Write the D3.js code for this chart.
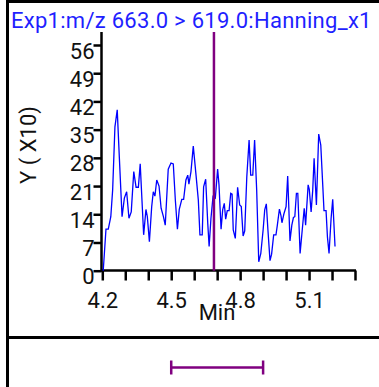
<!DOCTYPE html>
<html>
<head>
<meta charset="utf-8">
<script src="https://cdn.jsdelivr.net/npm/d3@7"></script>
<style>
  html, body { margin: 0; padding: 0; background: #fff; }
  svg { display: block; font-family: Roboto, "Noto Sans", sans-serif; }
</style>
</head>
<body>
<svg id="chart" width="379" height="387"></svg>
<script>
// Chromatogram trace: retention time (min) and intensity (units of X10)
const times = [
  4.204, 4.216, 4.226, 4.237, 4.245, 4.255, 4.265, 4.274, 4.286, 4.296,
  4.306, 4.316, 4.326, 4.337, 4.347, 4.357, 4.365, 4.380, 4.390, 4.396,
  4.405, 4.415, 4.422, 4.429, 4.437, 4.447, 4.456, 4.466, 4.474, 4.487,
  4.499, 4.509, 4.518, 4.527, 4.535, 4.546, 4.554, 4.564, 4.572, 4.577,
  4.586, 4.596, 4.608, 4.618, 4.625, 4.635, 4.641, 4.650, 4.659, 4.665,
  4.673, 4.682, 4.692, 4.702, 4.708, 4.717, 4.724, 4.731, 4.737, 4.744,
  4.752, 4.759, 4.765, 4.770, 4.779, 4.789, 4.798, 4.805, 4.813, 4.820,
  4.829, 4.839, 4.846, 4.855, 4.863, 4.872, 4.881, 4.890, 4.900, 4.907,
  4.914, 4.921, 4.930, 4.937, 4.946, 4.956, 4.962, 4.971, 4.978, 4.982,
  4.991, 5.000, 5.007, 5.017, 5.025, 5.032, 5.038, 5.045, 5.051, 5.061,
  5.069, 5.079, 5.085, 5.096, 5.101, 5.109, 5.116, 5.122, 5.132, 5.142,
  5.151, 5.160, 5.165, 5.174, 5.180, 5.187, 5.196, 5.203, 5.213
];
const intensities = [
  0, 10.3, 10.3, 13.4, 20, 35.7, 39.9, 28.3, 13.4, 18,
  19.6, 13, 14.6, 24.6, 20.7, 20.7, 26.5, 8.9, 15.2, 13.4,
  7.2, 15.9, 19.6, 18.5, 22.5, 21, 15.5, 13.4, 11.3, 25.2,
  26.7, 26.5, 17.5, 10.3, 15.2, 17.7, 17.7, 22.5, 23.7, 21.5,
  24.6, 30.9, 23.7, 17.5, 8.9, 8.9, 20.8, 22.7, 11.8, 6,
  13, 18.4, 18, 25.2, 21.3, 10.3, 15.1, 16.7, 12.8, 14.9,
  14.9, 19.2, 19, 10.1, 8, 20.7, 16.3, 15.9, 8.6, 9.9,
  23.3, 32.4, 23.7, 23.7, 32.4, 20, 2.2, 4.3, 10.1, 15.1,
  16.6, 10.1, 2.5, 4.1, 8.9, 8.9, 11.3, 15.3, 13.6, 11.9,
  14.2, 15.9, 23.5, 7.4, 11.3, 13.2, 13.4, 19.2, 19.2, 4.3,
  9.3, 15.5, 11.3, 21.3, 20.2, 14.6, 20, 27.9, 16.3, 33.9,
  31.2, 20.8, 14.9, 14.9, 8.4, 4.3, 13, 17.7, 6
];

// Axis ticks and labels
const yTicks = [0, 7, 14, 21, 28, 35, 42, 49, 56];
const xTicks = [4.2, 4.3, 4.4, 4.5, 4.6, 4.7, 4.8, 4.9, 5.0, 5.1, 5.2, 5.3];
const xLabelTicks = [4.2, 4.5, 4.8, 5.1];

// Peak marker and integration window
const markerTime = [4.686];
const windowRange = [4.50, 4.90];

const titleText = "Exp1:m/z 663.0 > 619.0:Hanning_x1";
const yTitle = "Y ( X10)";
const xTitle = "Min";

const svg = d3.select("#chart");
const FONT = 22;
const INK = "#111";

const x = d3.scaleLinear().domain([4.2, 5.3]).range([102.3, 355]);
const y = d3.scaleLinear().domain([0, 56]).range([270.7, 45]);
const yTop = 32;

// Frame
svg.append("line").attr("x1", 7.5).attr("x2", 379).attr("y1", 1.5).attr("y2", 1.5)
  .attr("stroke", "#000").attr("stroke-width", 3);
svg.append("line").attr("x1", 7.5).attr("x2", 7.5).attr("y1", 0).attr("y2", 387)
  .attr("stroke", "#000").attr("stroke-width", 3);
svg.append("line").attr("x1", 7.5).attr("x2", 379).attr("y1", 337.5).attr("y2", 337.5)
  .attr("stroke", "#000").attr("stroke-width", 3);

// Title
svg.append("text").attr("x", 11).attr("y", 28)
  .attr("font-size", FONT).attr("letter-spacing", 0.28).attr("fill", "#1f1fff").text(titleText);

// Y axis
const yAxis = d3.axisLeft(y).tickValues(yTicks).tickSize(8).tickPadding(0).tickFormat(d3.format("d"));
const gy = svg.append("g").attr("transform", "translate(101.5,0)").call(yAxis);
gy.select(".domain").remove();
gy.append("line").attr("x1", 0).attr("x2", 0).attr("y1", yTop).attr("y2", y(0) + 1)
  .attr("stroke", "#000").attr("stroke-width", 2.5);
gy.selectAll(".tick line").attr("stroke", "#000").attr("stroke-width", 2.5);
gy.selectAll(".tick text")
  .attr("font-size", FONT).attr("font-family", "Roboto, sans-serif").attr("fill", INK)
  .attr("x", -7).attr("y", 13).attr("dy", 0);

svg.append("text")
  .attr("transform", "translate(36,145) rotate(-90)")
  .attr("text-anchor", "middle").attr("font-size", FONT).attr("fill", INK)
  .text(yTitle);

// X axis
const xAxis = d3.axisBottom(x).tickValues(xTicks).tickSize(10).tickPadding(0)
  .tickFormat(d => xLabelTicks.some(v => Math.abs(v - d) < 1e-9) ? d3.format(".1f")(d) : "");
const gx = svg.append("g").attr("transform", "translate(0,270.5)").call(xAxis);
gx.select(".domain").remove();
gx.append("line").attr("x1", x.range()[0] - 1.5).attr("x2", x.range()[1] + 1)
  .attr("y1", 0).attr("y2", 0).attr("stroke", "#000").attr("stroke-width", 2.5);
gx.selectAll(".tick line").attr("stroke", "#000").attr("stroke-width", 2.5);
gx.selectAll(".tick text")
  .attr("font-size", FONT).attr("font-family", "Roboto, sans-serif").attr("fill", INK)
  .attr("y", 37).attr("dy", 0);

svg.append("text").attr("x", 217).attr("y", 320)
  .attr("text-anchor", "middle").attr("font-size", FONT).attr("fill", INK)
  .text(xTitle);

// Trace
const line = d3.line().x((d, i) => x(times[i])).y(d => y(d));
svg.append("path").datum(intensities)
  .attr("d", line).attr("fill", "none").attr("stroke", "#0000ff").attr("stroke-width", 1.3)
  .attr("stroke-linejoin", "miter");

// Retention marker
svg.selectAll(".marker").data(markerTime).enter().append("line")
  .attr("class", "marker")
  .attr("x1", d => x(d)).attr("x2", d => x(d))
  .attr("y1", yTop).attr("y2", y(0))
  .attr("stroke", "#800080").attr("stroke-width", 2.5);

// Window bar
const by = 367.5;
const wb = svg.append("g").attr("stroke", "#800080").attr("stroke-width", 2.5);
wb.append("line").attr("x1", x(windowRange[0])).attr("x2", x(windowRange[1]))
  .attr("y1", by).attr("y2", by);
windowRange.forEach(v => {
  wb.append("line").attr("x1", x(v)).attr("x2", x(v)).attr("y1", by - 7).attr("y2", by + 7);
});
</script>
</body>
</html>
